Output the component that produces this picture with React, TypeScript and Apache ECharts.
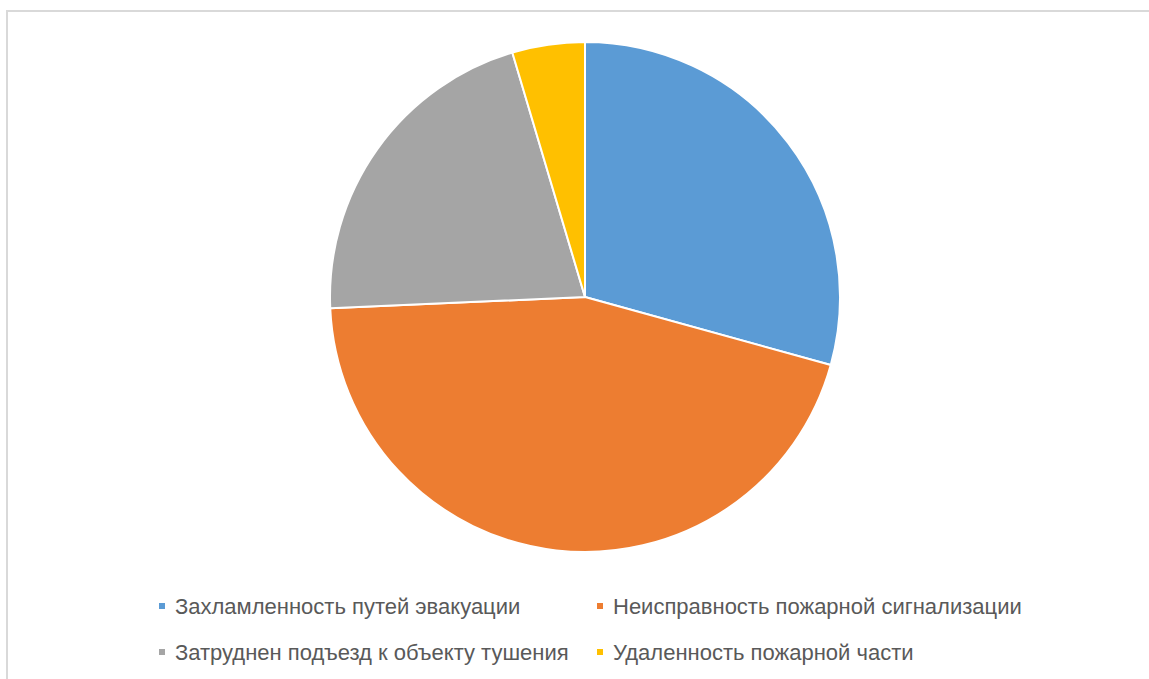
import React, { useEffect, useRef } from "react";
import * as echarts from "echarts";

const categories = [
  "Захламленность путей эвакуации",
  "Неисправность пожарной сигнализации",
  "Затруднен подъезд к объекту тушения",
  "Удаленность пожарной части",
];
const values = [29.3, 45.0, 21.1, 4.6];
const colors = ["#5B9BD5", "#ED7D31", "#A5A5A5", "#FFC000"];

const legendPos = [
  { left: 157, top: 595 },
  { left: 595, top: 595 },
  { left: 157, top: 641 },
  { left: 595, top: 641 },
];

export default function App() {
  const ref = useRef<HTMLDivElement>(null);
  useEffect(() => {
    document.body.style.margin = "0";
    const chart = echarts.init(ref.current!, null, { renderer: "svg" });
    chart.setOption({
      animation: false,
      backgroundColor: "#ffffff",
      color: colors,
      graphic: [
        {
          type: "rect",
          shape: { x: 7, y: 11, width: 1200, height: 720 },
          style: { fill: "none", stroke: "#d9d9d9", lineWidth: 2 },
          silent: true,
        },
      ],
      legend: categories.map((c, i) => ({
        data: [c],
        left: legendPos[i].left,
        top: legendPos[i].top,
        padding: 0,
        itemWidth: 8,
        itemHeight: 8,
        icon: "rect",
        selectedMode: false,
        textStyle: {
          color: "#595959",
          fontSize: 22,
          fontFamily: "Liberation Sans",
          padding: [0, 0, 0, 4],
        },
      })),
      series: [
        {
          type: "pie",
          center: [585, 297],
          radius: 255,
          startAngle: 90,
          clockwise: true,
          label: { show: false },
          labelLine: { show: false },
          emphasis: { disabled: true },
          itemStyle: { borderColor: "#ffffff", borderWidth: 2 },
          data: categories.map((c, i) => ({ name: c, value: values[i] })),
        },
      ],
    });
    return () => chart.dispose();
  }, []);
  return <div ref={ref} style={{ width: 1149, height: 679 }} />;
}
